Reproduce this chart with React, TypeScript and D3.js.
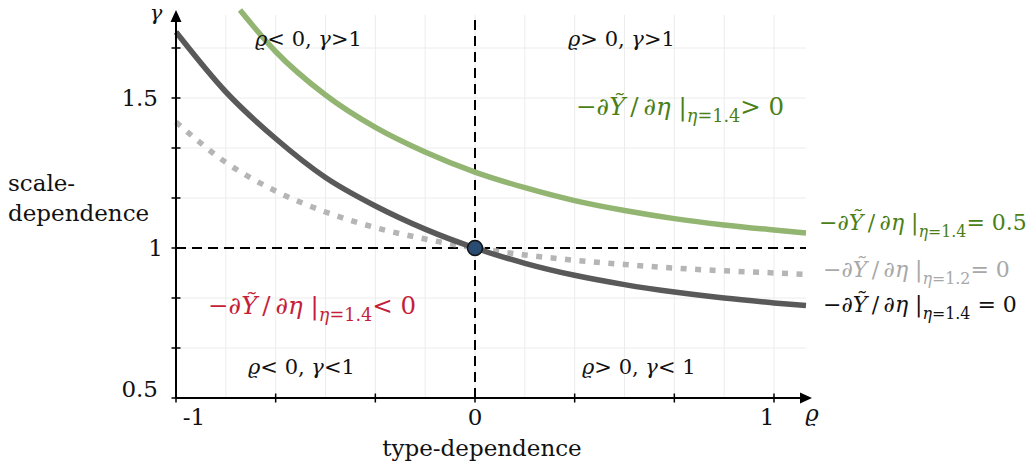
import React from 'react';
import * as d3 from 'd3';

const width = 1033;
const height = 472;
const font = 'DejaVu Serif';

// type-dependence (rho) sample points
const rhoSamples = [-1, -0.833, -0.667, -0.5, -0.333, -0.167, 0, 0.167, 0.333, 0.5, 0.667, 0.833, 1.0, 1.107];
// -dY/deta | eta=1.4 = 0
const gammaZero14 = [1.72, 1.52, 1.365, 1.235, 1.14, 1.063, 1.0, 0.949, 0.909, 0.878, 0.853, 0.833, 0.817, 0.808];
// -dY/deta | eta=1.2 = 0 (dotted)
const gammaZero12 = [1.42, 1.285, 1.19, 1.12, 1.068, 1.03, 1.0, 0.977, 0.959, 0.945, 0.933, 0.924, 0.917, 0.912];
// -dY/deta | eta=1.4 = 0.5 (green, enters from the top)
const rhoGreen = [-0.786, -0.667, -0.5, -0.333, -0.167, 0, 0.167, 0.333, 0.5, 0.667, 0.833, 1.0, 1.107];
const gammaHalf14 = [1.793, 1.655, 1.51, 1.402, 1.32, 1.253, 1.201, 1.158, 1.125, 1.098, 1.077, 1.06, 1.05];

const xTicks = [-1, -2 / 3, -1 / 3, 0, 1 / 3, 2 / 3, 1];
const xTickLabels = ['-1', '', '', '0', '', '', '1'];
const yTicks = [0.5, 2 / 3, 5 / 6, 1, 7 / 6, 4 / 3, 1.5, 5 / 3];
const yTickLabels = ['0.5', '', '', '1', '', '', '1.5', ''];

const xMin = -1, xMax = 1.107;
const yMin = 0.5, yTop = 1.8, gridTop = 1.777;

const x = d3.scaleLinear().domain([-1, 1]).range([176, 774]);
const y = d3.scaleLinear().domain([yMin, yTop]).range([398, 8]);

const line = d3.line<[number, number]>()
  .x(d => x(d[0]))
  .y(d => y(d[1]))
  .curve(d3.curveMonotoneX);

const zip = (a: number[], b: number[]) => a.map((v, i) => [v, b[i]] as [number, number]);

function Deriv({ px, py, eta, tail, color, size }: any) {
  const sub = size * 0.72;
  const shift = size * 0.3;
  return (
    <text x={px} y={py} fill={color} fontSize={size} fontFamily={font}>
      <tspan>−∂</tspan>
      <tspan fontStyle="italic">Ỹ</tspan>
      <tspan>{'\u2009/\u2009∂'}</tspan>
      <tspan fontStyle="italic">η</tspan>
      <tspan>{' |'}</tspan>
      <tspan dy={shift} fontSize={sub} fontStyle="italic">η</tspan>
      <tspan fontSize={sub}>{'=' + eta}</tspan>
      <tspan dy={-shift}>{tail}</tspan>
    </text>
  );
}

function Region({ px, py, rel1, rel2 }: any) {
  return (
    <text x={px} y={py} fontSize={21} fontFamily={font} fill="#111">
      <tspan fontStyle="italic">ϱ</tspan>
      <tspan>{rel1}</tspan>
      <tspan fontStyle="italic">γ</tspan>
      <tspan>{rel2}</tspan>
    </text>
  );
}

export default function App() {
  const gridX = d3.range(0, 13).map(i => -1 + i / 6);
  const gridY = d3.range(0, 8).map(i => 0.5 + i / 6);
  const x0 = x(xMin), x1 = x(xMax), y0 = y(yMin);
  const xTip = x1 + 6, yTip = y(yTop) + 2;

  return (
    <svg width={width} height={height} style={{ position: 'absolute', left: 0, top: 0, background: '#fff' }}>
      {/* grid */}
      <g stroke="#ececec" strokeWidth={1}>
        {gridX.map((v, i) => <line key={'gx' + i} x1={x(v)} x2={x(v)} y1={y0} y2={y(gridTop)} />)}
        {gridY.map((v, i) => <line key={'gy' + i} x1={x0} x2={x1} y1={y(v)} y2={y(v)} />)}
      </g>

      {/* reference lines */}
      <g stroke="#000" strokeWidth={2} strokeDasharray="10 6">
        <line x1={x0} x2={x1} y1={y(1)} y2={y(1)} />
        <line x1={x(0)} x2={x(0)} y1={y0} y2={y(gridTop)} />
      </g>

      {/* curves */}
      <path d={line(zip(rhoSamples, gammaZero12)) || ''} fill="none" stroke="#b5b5b5" strokeWidth={5.5} strokeDasharray="6 8.5" />
      <path d={line(zip(rhoSamples, gammaZero14)) || ''} fill="none" stroke="#595959" strokeWidth={5.5} />
      <path d={line(zip(rhoGreen, gammaHalf14)) || ''} fill="none" stroke="#93b572" strokeWidth={5.5} />

      <circle cx={x(0)} cy={y(1)} r={7.5} fill="#2a4b72" stroke="#111" strokeWidth={1.5} />

      {/* axes */}
      <g stroke="#000" strokeWidth={2}>
        <line x1={x0} x2={x1} y1={y0} y2={y0} />
        <line x1={x0} x2={x0} y1={y0} y2={yTip + 10} />
      </g>
      <path d={`M${xTip},${y0} L${xTip - 12},${y0 - 5.5} L${xTip - 12},${y0 + 5.5} Z`} fill="#000" />
      <path d={`M${x0},${yTip} L${x0 - 5.5},${yTip + 12} L${x0 + 5.5},${yTip + 12} Z`} fill="#000" />
      <g stroke="#000" strokeWidth={1.5}>
        {xTicks.map((v, i) => <line key={'tx' + i} x1={x(v)} x2={x(v)} y1={y0 - 4.5} y2={y0 + 4.5} />)}
        {yTicks.map((v, i) => <line key={'ty' + i} x1={x0 - 4.5} x2={x0 + 4.5} y1={y(v)} y2={y(v)} />)}
      </g>

      {/* tick labels */}
      <g fontFamily={font} fontSize={23} fill="#111">
        {xTicks.map((v, i) => xTickLabels[i] === '' ? null : (
          <text key={'lx' + i}
            x={x(v) + (v < 0 ? 18 : v > 0 ? -7 : 0)}
            y={y0 + 27}
            textAnchor="middle">{xTickLabels[i]}</text>
        ))}
        {yTicks.map((v, i) => yTickLabels[i] === '' ? null : (
          <text key={'ly' + i}
            x={x0 - (v === 1 ? 13 : 18)}
            y={y(v) + (v === yMin ? -1 : 8)}
            textAnchor="end">{yTickLabels[i]}</text>
        ))}
      </g>

      {/* axis titles */}
      <g fontFamily={font} fontSize={23} fill="#111">
        <text x={x(0) + 7} y={456} textAnchor="middle">type-dependence</text>
        <text x={8} y={191}>scale-</text>
        <text x={8} y={221}>dependence</text>
        <text x={xTip} y={y0 + 23} textAnchor="middle" fontStyle="italic">ϱ</text>
        <text x={x0 - 20} y={20} fontSize={21} textAnchor="middle" fontStyle="italic">γ</text>
      </g>

      {/* region labels */}
      <Region px={255} py={46} rel1="< 0, " rel2=">1" />
      <Region px={568} py={46} rel1="> 0, " rel2=">1" />
      <Region px={248} py={374} rel1="< 0, " rel2="<1" />
      <Region px={582} py={374} rel1="> 0, " rel2="< 1" />

      {/* derivative labels */}
      <Deriv px={576} py={115} eta="1.4" tail="> 0" color="#4b7f17" size={24.5} />
      <Deriv px={208} py={314} eta="1.4" tail="< 0" color="#c41e3a" size={24.5} />
      <Deriv px={819} py={230} eta="1.4" tail="= 0.5" color="#4b7f17" size={22} />
      <Deriv px={823} py={277} eta="1.2" tail="= 0" color="#a8a8a8" size={22} />
      <Deriv px={823} py={312} eta="1.4" tail=" = 0" color="#111" size={22} />
    </svg>
  );
}
